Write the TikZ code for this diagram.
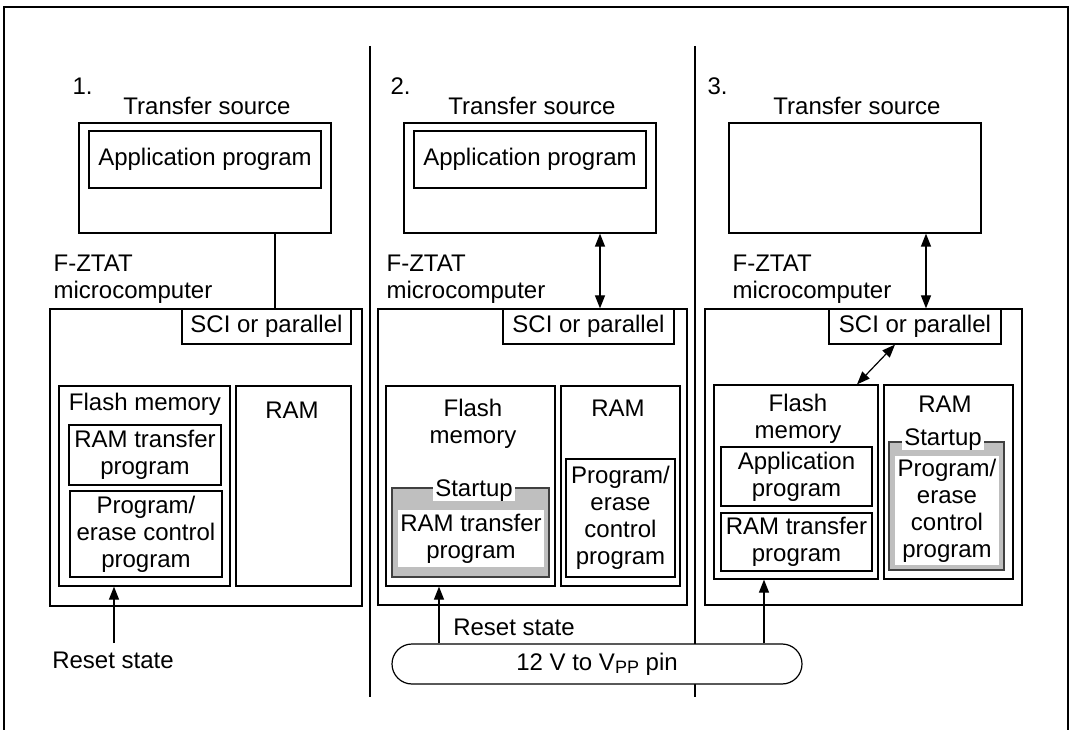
\documentclass[tikz,border=0pt]{standalone}
\usepackage{fontspec}
\setmainfont{Liberation Sans}
\usetikzlibrary{arrows.meta,fit,shapes.misc}
\begin{document}
\begin{tikzpicture}[x=1pt,y=-1pt,
  every node/.style={font=\fontsize{24}{27}\selectfont, inner sep=0pt},
  box/.style={draw, line width=1.2pt, inner sep=0pt},
  gbox/.style={draw=black!75, line width=2pt, fill=black!25, inner sep=0pt},
  wbox/.style={fill=white, draw=none, inner sep=0pt},
  lbl/.style={fill=white, inner xsep=2pt, inner ysep=0pt},
  txt/.style={align=center},
  uarr/.style={line width=1.2pt, -{Triangle[length=13pt,width=10pt]}},
  barr/.style={line width=1.2pt, {Triangle[length=13pt,width=10pt]}-{Triangle[length=13pt,width=10pt]}},
  line width=1.2pt]
\useasboundingbox (0,0) rectangle (1072,730);
% frame and separators
\draw (4,730) -- (4,7) -- (1068,7) -- (1068,730);
\draw (370,46) -- (370,697);
\draw (695,46) -- (695,697);

% ---------- Panel 1 ----------
\node[anchor=base west] (n1) at (72,95) {1.};
\node[anchor=base] (t1) at (207,115) {Transfer source};
\node[box, fit={(79,123) (331,233)}] (ts1) {};
\node[box, fit={(89,131) (321,188)}] (ap1) {};
\node[txt] (ap1t) at (ap1.center) {Application program};
\node[anchor=west, align=left] (fz1) at (53,279) {F-ZTAT\\microcomputer};
\node[box, fit={(50,309) (362,606)}] (m1) {};
\node[box, fill=white, fit={(182,309) (351,344)}] (sci1) {};
\node[txt] (sci1t) at (sci1.center) {SCI or parallel};
\node[box, fit={(59,386) (230,586)}] (fl1) {};
\node[anchor=base] (fl1t) at (145,410) {Flash memory};
\node[box, fit={(236,386) (351,586)}] (ram1) {};
\node[anchor=base] (ram1t) at (292,418) {RAM};
\node[box, fit={(69,425) (221,485)}] (rt1) {};
\node[txt] (rt1t) at (rt1.center) {RAM transfer\\program};
\node[box, fit={(70,491) (222,577)}] (pe1) {};
\node[txt] (pe1t) at (pe1.center) {Program/\\erase control\\program};
\node[anchor=base] (rs1) at (113,668) {Reset state};
\coordinate (a1) at (114,643);
\draw[uarr] (a1) -- (a1 |- fl1.south);
\draw ([xshift=70pt]ts1.south) -- ([xshift=70pt]ts1.south |- sci1.north);

% ---------- Panel 2 ----------
\node[anchor=base west] (n2) at (390,95) {2.};
\node[anchor=base] (t2) at (532,115) {Transfer source};
\node[box, fit={(404,123) (656,233)}] (ts2) {};
\node[box, fit={(414,131) (646,188)}] (ap2) {};
\node[txt] (ap2t) at (ap2.center) {Application program};
\node[anchor=west, align=left] (fz2) at (386,279) {F-ZTAT\\microcomputer};
\node[box, fit={(378,309) (687,605)}] (m2) {};
\node[box, fill=white, fit={(503,309) (674,344)}] (sci2) {};
\node[txt] (sci2t) at (sci2.center) {SCI or parallel};
\draw[barr] ([xshift=70pt]ts2.south) -- ([xshift=70pt]ts2.south |- sci2.north);
\node[box, fit={(386,386) (555,586)}] (fl2) {};
\node[txt] (fl2t) at (473,424) {Flash\\memory};
\node[box, fit={(561,386) (680,586)}] (ram2) {};
\node[anchor=base] (ram2t) at (618,417) {RAM};
\node[box, fit={(566,459) (675,577)}] (pe2) {};
\node[txt] (pe2t) at (pe2.center) {Program/\\erase\\control\\program};
\node[gbox, fit={(392,488) (549,577)}] (sb2) {};
\node[wbox, fit={(398,510) (544,567)}] (rt2) {};
\node[txt] (rt2t) at (rt2.center) {RAM transfer\\program};
\node[lbl, anchor=base] (su2) at (474,496) {Startup};
\node[anchor=base] (rs2) at (514,635) {Reset state};

% ---------- Panel 3 ----------
\node[anchor=base west] (n3) at (707,95) {3.};
\node[anchor=base] (t3) at (857,115) {Transfer source};
\node[box, fit={(729,123) (981,233)}] (ts3) {};
\node[anchor=west, align=left] (fz3) at (732,279) {F-ZTAT\\microcomputer};
\node[box, fit={(705,309) (1022,605)}] (m3) {};
\node[box, fill=white, fit={(829,309) (1001,344)}] (sci3) {};
\node[txt] (sci3t) at (sci3.center) {SCI or parallel};
\draw[barr] ([xshift=71pt]ts3.south) -- ([xshift=71pt]ts3.south |- sci3.north);
\node[box, fit={(714,385) (878,579)}] (fl3) {};
\node[txt] (fl3t) at (798,419) {Flash\\memory};
\node[box, fit={(721,447) (872,506)}] (ap3) {};
\node[txt] (ap3t) at (ap3.center) {Application\\program};
\node[box, fit={(721,513) (872,571)}] (rt3) {};
\node[txt] (rt3t) at (rt3.center) {RAM transfer\\program};
\node[box, fit={(884,385) (1013,579)}] (ram3) {};
\node[anchor=base] (ram3t) at (945,412) {RAM};
\node[gbox, fit={(889,442) (1004,570)}] (sb3) {};
\node[wbox, fit={(895,456) (999,565)}] (pe3) {};
\node[txt] (pe3t) at (pe3.center) {Program/\\erase\\control\\program};
\node[lbl, anchor=base] (su3) at (943,445) {Startup};
\draw[barr] ([xshift=-20pt]sci3.south) -- ([xshift=61pt]fl3.north);

% ---------- 12 V pill ----------
\node[draw, rounded rectangle, fill=white, line width=1.2pt, minimum width=410pt, minimum height=40pt, inner sep=0pt] (pin) at (597,664) {12 V to V\raisebox{-3pt}{\fontsize{18}{18}\selectfont PP} pin};
\coordinate (a2) at (439,0);
\coordinate (a3) at (764,0);
\draw[uarr] (a2 |- pin.north) -- (a2 |- fl2.south);
\draw[uarr] (a3 |- pin.north) -- (a3 |- fl3.south);
\end{tikzpicture}
\end{document}
